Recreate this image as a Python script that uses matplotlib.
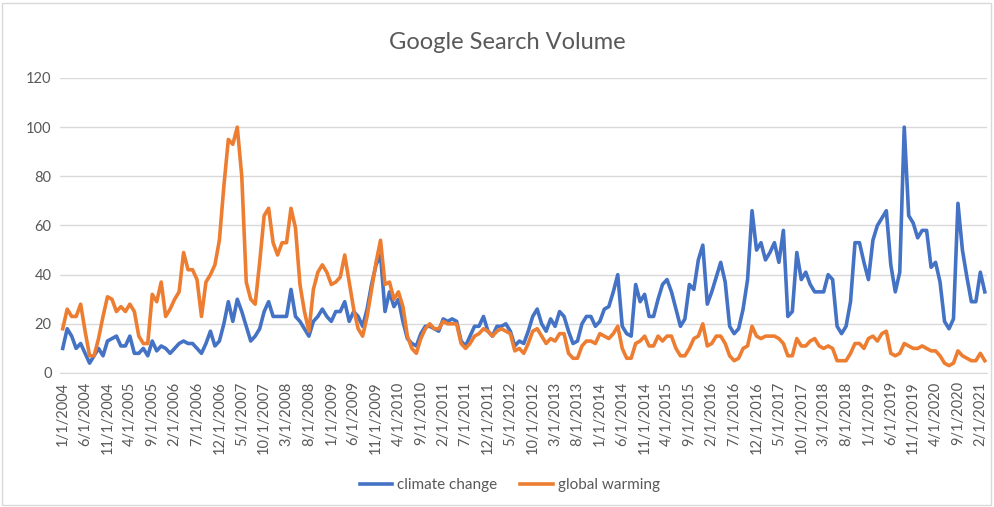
import pandas as pd
import matplotlib.pyplot as plt
from matplotlib.patches import Rectangle

# monthly google trends values, 1/1/2004 .. 3/1/2021
climate_change = [
    10, 18, 15, 10, 12, 8, 4, 7, 10, 7,
    13, 14, 15, 11, 11, 15, 8, 8, 10, 7,
    13, 9, 11, 10, 8, 10, 12, 13, 12, 12,
    10, 8, 12, 17, 11, 13, 20, 29, 21, 30,
    25, 19, 13, 15, 18, 25, 29, 23, 23, 23,
    23, 34, 23, 21, 18, 15, 21, 23, 26, 23,
    21, 25, 25, 29, 21, 25, 23, 19, 26, 36,
    44, 48, 25, 33, 27, 30, 21, 14, 12, 11,
    16, 19, 19, 18, 17, 22, 21, 22, 21, 13,
    11, 15, 19, 19, 23, 17, 15, 19, 19, 20,
    17, 11, 13, 12, 17, 23, 26, 20, 17, 22,
    19, 25, 23, 17, 12, 13, 20, 23, 23, 19,
    21, 26, 27, 33, 40, 19, 16, 15, 36, 29,
    32, 23, 23, 30, 36, 38, 33, 26, 19, 22,
    36, 34, 46, 52, 28, 33, 39, 45, 37, 19,
    16, 18, 26, 38, 66, 50, 53, 46, 49, 53,
    45, 58, 23, 25, 49, 38, 41, 36, 33, 33,
    33, 40, 38, 19, 16, 19, 29, 53, 53, 45,
    38, 54, 60, 63, 66, 44, 33, 41, 100, 64,
    61, 55, 58, 58, 43, 45, 37, 21, 18, 22,
    69, 50, 39, 29, 29, 41, 33,
]

global_warming = [
    18, 26, 23, 23, 28, 17, 7, 7, 14, 23,
    31, 30, 25, 27, 25, 28, 25, 15, 12, 12,
    32, 29, 37, 23, 26, 30, 33, 49, 42, 42,
    38, 23, 37, 40, 44, 54, 76, 95, 93, 100,
    80, 37, 30, 28, 45, 64, 67, 53, 48, 53,
    53, 67, 59, 36, 25, 17, 34, 41, 44, 41,
    36, 37, 39, 48, 37, 26, 18, 15, 23, 34,
    45, 54, 36, 37, 30, 33, 27, 15, 10, 8,
    14, 18, 20, 18, 18, 21, 20, 20, 20, 12,
    10, 12, 15, 16, 18, 17, 15, 17, 18, 17,
    16, 9, 10, 8, 12, 17, 18, 15, 12, 14,
    13, 16, 16, 8, 6, 6, 11, 13, 13, 12,
    16, 15, 14, 16, 19, 10, 6, 6, 12, 13,
    15, 11, 11, 15, 13, 15, 15, 10, 7, 7,
    10, 14, 15, 20, 11, 12, 15, 15, 12, 7,
    5, 6, 10, 11, 19, 15, 14, 15, 15, 15,
    14, 12, 7, 7, 14, 11, 11, 13, 14, 11,
    10, 11, 10, 5, 5, 5, 8, 12, 12, 10,
    14, 15, 13, 16, 17, 8, 7, 8, 12, 11,
    10, 10, 11, 10, 9, 9, 7, 4, 3, 4,
    9, 7, 6, 5, 5, 8, 5,
]

months = pd.date_range('2004-01-01', periods=len(climate_change), freq='MS')
labels = [f'{d.month}/{d.day}/{d.year}' for d in months]
x = list(range(len(months)))

plt.rcParams['font.family'] = ['Lato', 'DejaVu Sans']
grey = '#595959'

fig = plt.figure(figsize=(9.94, 5.07), dpi=100)
fig.patches.append(Rectangle((0.002, 0.004), 0.995, 0.99, transform=fig.transFigure,
                             fill=False, edgecolor='#d9d9d9', linewidth=1))

ax = fig.add_axes([0.0604, 0.2643, 0.9326, 0.5819])
ax.plot(x, climate_change, color='#4472C4', linewidth=2.6, label='climate change')
ax.plot(x, global_warming, color='#ED7D31', linewidth=2.6, label='global warming')

ax.set_ylim(0, 120)
ax.set_yticks(range(0, 121, 20))
ax.set_xlim(-0.6, len(x) - 0.5)
ax.set_xticks(x[::5])
ax.set_xticklabels(labels[::5], rotation=90)
ax.tick_params(axis='both', length=0, colors=grey, labelsize=10.5)
ax.tick_params(axis='x', pad=6)
ax.tick_params(axis='y', pad=6)
ax.grid(axis='y', color='#d9d9d9', linewidth=1)
ax.set_axisbelow(True)
for s in ['top', 'right', 'left']:
    ax.spines[s].set_visible(False)
ax.spines['bottom'].set_color('#d9d9d9')

fig.text(0.51, 0.917, 'Google Search Volume', ha='center', va='center',
         fontsize=17, color=grey)

fig.legend(loc='center', bbox_to_anchor=(0.513, 0.043), ncol=2, frameon=False,
           fontsize=11, handlelength=2.1, handletextpad=0.35, columnspacing=1.5,
           labelcolor=grey)

fig.savefig('out.png', dpi=100)
